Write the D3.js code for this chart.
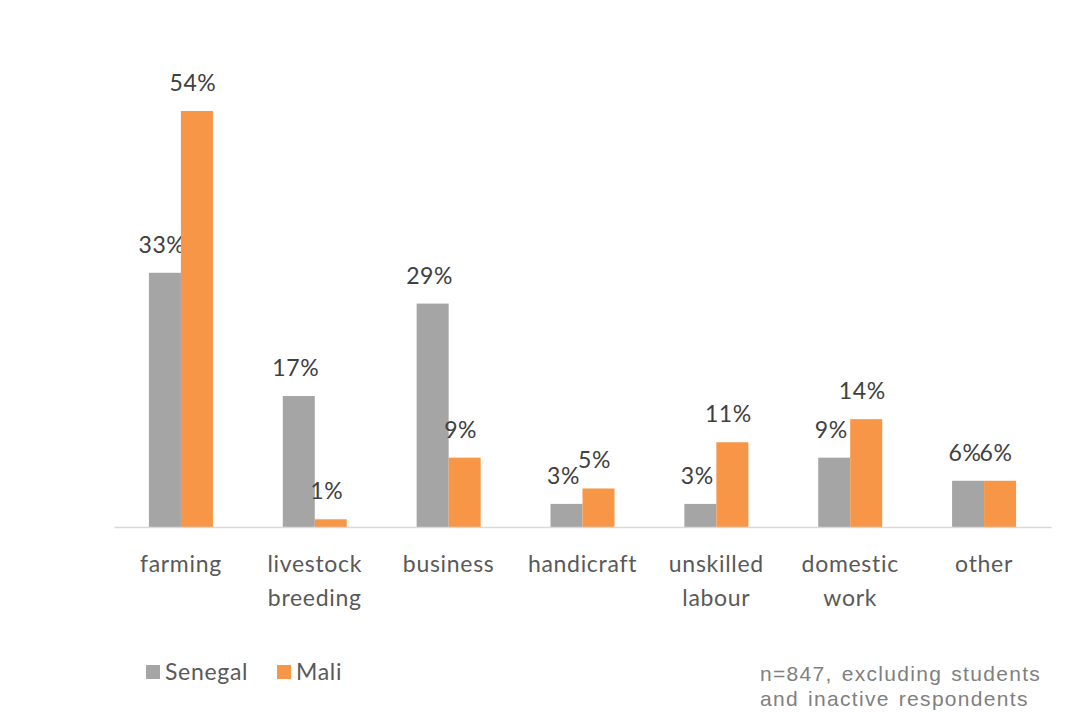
<!DOCTYPE html>
<html><head><meta charset="utf-8">
<script src="https://cdn.jsdelivr.net/npm/d3@7"></script>
<style>body{margin:0;background:#fff}</style>
</head><body>
<svg id="c" width="1071" height="713"></svg>
<script>
const categories = [["farming"],["livestock","breeding"],["business"],["handicraft"],["unskilled","labour"],["domestic","work"],["other"]];
const seriesNames = ["Senegal","Mali"];
const senegal = [33,17,29,3,3,9,6];
const mali = [54,1,9,5,11,14,6];
const colors = ["#a5a5a5","#f79646"];

const svg = d3.select("#c");
const keys = categories.map((c,i)=>"c"+i);
const x = d3.scaleBand().domain(keys).range([114,1051]).paddingInner(0).paddingOuter(0);
const x1 = d3.scaleBand().domain(seriesNames).range([0,64]);
const y = d3.scaleLinear().domain([0,54]).range([527,111]);
const bw = 64;
const series = [senegal, mali];
const FONT = "Lato, sans-serif";

const g = svg.append("g");
series.forEach((vals,si)=>{
  g.selectAll(null).data(vals).enter().append("rect")
    .attr("x",(d,i)=>x(keys[i])+(x.bandwidth()-bw)/2+x1(seriesNames[si]))
    .attr("width",x1.bandwidth())
    .attr("y",d=>y(d))
    .attr("height",d=>y(0)-y(d))
    .attr("fill",colors[si]);
  g.selectAll(null).data(vals).enter().append("text")
    .attr("x",(d,i)=>x(keys[i])+(x.bandwidth()-bw)/2+x1(seriesNames[si])+x1.bandwidth()/2 + (si===0?-3:-4))
    .attr("y",d=>y(d)-20)
    .attr("text-anchor","middle")
    .attr("font-family",FONT).attr("font-size",23).attr("letter-spacing",0.6)
    .attr("fill","#404040")
    .text(d=>d+"%");
});

// axis
const axis = d3.axisBottom(x).tickSize(0).tickFormat("");
const ax = svg.append("g").attr("transform","translate(0,527)").call(axis);
ax.select(".domain").attr("stroke","#d9d9d9").attr("stroke-width",1.5);
categories.forEach((lines,i)=>{
  const cx = x(keys[i])+x.bandwidth()/2;
  const t = svg.append("text").attr("x",cx).attr("y",572)
    .attr("text-anchor","middle").attr("font-family",FONT).attr("font-size",23).attr("letter-spacing",0.7).attr("fill","#595959");
  lines.forEach((l,j)=>t.append("tspan").attr("x",cx).attr("dy",j===0?0:34).text(l));
});

// legend
const leg = svg.append("g");
const lx = [146,277];
seriesNames.forEach((n,i)=>{
  leg.append("rect").attr("x",lx[i]).attr("y",665).attr("width",14).attr("height",14).attr("fill",colors[i]);
  leg.append("text").attr("x",lx[i]+19).attr("y",680).attr("font-family",FONT).attr("font-size",23).attr("letter-spacing",0.7).attr("fill","#595959").text(n);
});

// footnote
const fn = svg.append("text").attr("x",760).attr("y",681).attr("font-family","Liberation Sans, Arial, sans-serif").attr("font-size",21).attr("letter-spacing",1.3).attr("word-spacing",2).attr("fill","#808080");
fn.append("tspan").attr("x",760).text("n=847, excluding students");
fn.append("tspan").attr("x",760).attr("dy",25).text("and inactive respondents");
</script>
</body></html>
